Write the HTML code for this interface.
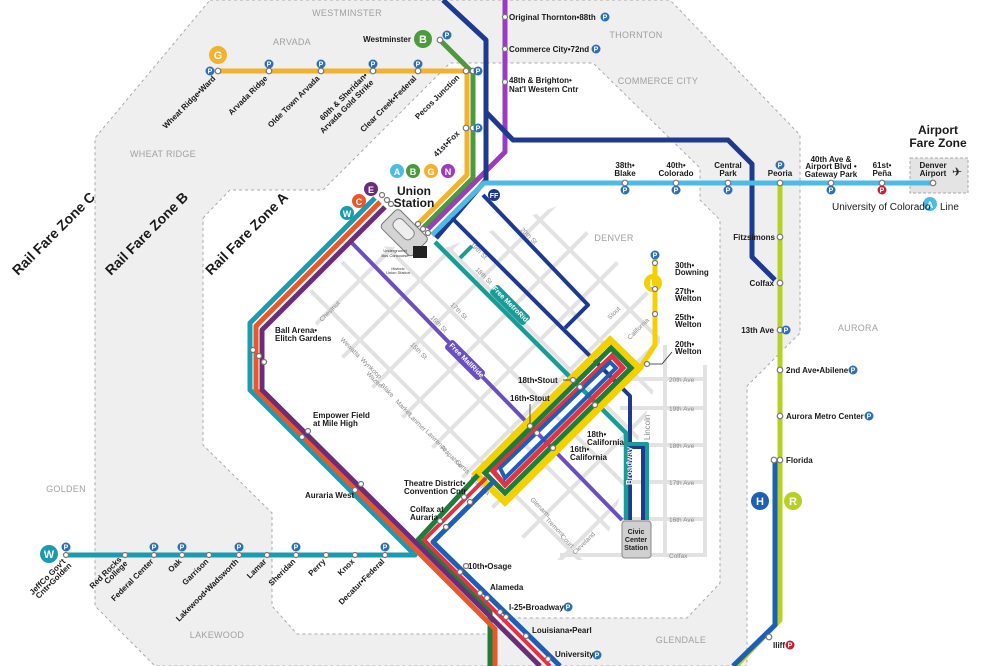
<!DOCTYPE html>
<html><head><meta charset="utf-8"><style>
html,body{margin:0;padding:0;background:#fff;width:1000px;height:666px;overflow:hidden;}
svg{display:block;font-family:"Liberation Sans",sans-serif;}
.st{fill:#fff;stroke:#777;stroke-width:1.2}
.lb{font-size:8px;font-weight:bold;fill:#1a1a1a}
.city{font-size:9px;fill:#a0a0a0;letter-spacing:0.3px}
.zone{font-size:14px;font-weight:bold;fill:#1a1a1a}
.sm{font-size:6.5px;fill:#888}
.ln{fill:none;stroke-linejoin:round;stroke-linecap:butt}
</style></head><body>
<svg width="1000" height="666" viewBox="0 0 1000 666" xmlns="http://www.w3.org/2000/svg">
<defs>
<g id="P"><circle r="4.5" fill="#2e6fb4"/><text y="2.6" text-anchor="middle" font-size="7" font-weight="bold" fill="#fff">P</text></g>
<g id="PR"><circle r="4.5" fill="#c4203a"/><text y="2.6" text-anchor="middle" font-size="7" font-weight="bold" fill="#fff">P</text></g>
<clipPath id="gc"><polygon points="300,300 360,245 440,250 560,205 660,305 660,370 600,560 545,560 330,345"/></clipPath>
</defs>
<!-- zones -->
<polygon points="210,0 670,0 800,135 800,333 747,386 747,666 155,666 95,606 95,138" fill="#efefef" stroke="#aaa" stroke-width="1" stroke-dasharray="3,3"/>
<polygon points="203,218 230,190 323,190 450,63 593,63 700,168 700,200 720,220 720,583 687,618 506,618 490,634 297,634 272,606 272,513 203,445" fill="#fff" stroke="#aaa" stroke-width="1" stroke-dasharray="3,3"/>
<rect x="910" y="158" width="58" height="35" fill="#e4e4e4" stroke="#aaa" stroke-dasharray="3,2"/>

<text class="zone" transform="translate(57,237) rotate(-45)" text-anchor="middle">Rail Fare Zone C</text>
<text class="zone" transform="translate(150,237) rotate(-45)" text-anchor="middle">Rail Fare Zone B</text>
<text class="zone" transform="translate(250,237) rotate(-45)" text-anchor="middle">Rail Fare Zone A</text>
<text class="city" x="347" y="16" text-anchor="middle">WESTMINSTER</text>
<text class="city" x="292" y="45" text-anchor="middle">ARVADA</text>
<text class="city" x="636" y="38" text-anchor="middle">THORNTON</text>
<text class="city" x="658" y="84" text-anchor="middle">COMMERCE CITY</text>
<text class="city" x="163" y="157" text-anchor="middle">WHEAT RIDGE</text>
<text class="city" x="614" y="241" text-anchor="middle">DENVER</text>
<text class="city" x="858" y="331" text-anchor="middle">AURORA</text>
<text class="city" x="66" y="492" text-anchor="middle">GOLDEN</text>
<text class="city" x="217" y="638" text-anchor="middle">LAKEWOOD</text>
<text class="city" x="681" y="643" text-anchor="middle">GLENDALE</text>
<text x="938" y="134" text-anchor="middle" font-size="12" font-weight="bold" fill="#1a1a1a">Airport</text>
<text x="938" y="147" text-anchor="middle" font-size="12" font-weight="bold" fill="#1a1a1a">Fare Zone</text>

<!-- street grid -->
<g clip-path="url(#gc)" stroke="#e2e2e2" stroke-width="4">
<line x1="200" y1="0" x2="900" y2="700"/><line x1="170" y1="30" x2="870" y2="730"/><line x1="140" y1="60" x2="840" y2="760"/><line x1="110" y1="90" x2="810" y2="790"/><line x1="80" y1="120" x2="780" y2="820"/><line x1="50" y1="150" x2="750" y2="850"/><line x1="20" y1="180" x2="720" y2="880"/><line x1="-10" y1="210" x2="690" y2="910"/><line x1="230" y1="-30" x2="930" y2="670"/><line x1="260" y1="-60" x2="960" y2="640"/><line x1="290" y1="-90" x2="990" y2="610"/><line x1="320" y1="-120" x2="1020" y2="580"/><line x1="350" y1="-150" x2="1050" y2="550"/><line x1="380" y1="-180" x2="1080" y2="520"/>
<line x1="300" y1="700" x2="1000" y2="0"/><line x1="270" y1="670" x2="970" y2="-30"/><line x1="240" y1="640" x2="940" y2="-60"/><line x1="210" y1="610" x2="910" y2="-90"/><line x1="180" y1="580" x2="880" y2="-120"/><line x1="150" y1="550" x2="850" y2="-150"/><line x1="120" y1="520" x2="820" y2="-180"/><line x1="330" y1="730" x2="1030" y2="30"/><line x1="360" y1="760" x2="1060" y2="60"/><line x1="390" y1="790" x2="1090" y2="90"/><line x1="420" y1="820" x2="1120" y2="120"/>
</g>
<g stroke="#e2e2e2" stroke-width="4">
<line x1="610" y1="379" x2="705" y2="379"/><line x1="620" y1="408" x2="705" y2="408"/><line x1="620" y1="445" x2="705" y2="445"/><line x1="620" y1="482" x2="705" y2="482"/><line x1="620" y1="519" x2="705" y2="519"/><line x1="560" y1="555" x2="705" y2="555"/>
<line x1="665" y1="345" x2="665" y2="555"/><line x1="705" y1="365" x2="705" y2="557"/>
</g>
<g class="sm">
<text x="669" y="382">20th Ave</text><text x="669" y="411">19th Ave</text><text x="669" y="448">18th Ave</text><text x="669" y="485">17th Ave</text><text x="669" y="522">16th Ave</text><text x="669" y="558">Colfax</text>
<text transform="translate(650,440) rotate(-90)" font-size="8">Lincoln</text>
<text transform="translate(322,322) rotate(-45)">Chestnut</text>
<text transform="translate(340,340) rotate(45)">Wewatta</text>
<text transform="translate(360,360) rotate(45)">Wynkoop</text>
<text transform="translate(366,374) rotate(45)">Wazee</text>
<text transform="translate(380,386) rotate(45)">Blake</text>
<text transform="translate(395,402) rotate(45)">Market</text>
<text transform="translate(408,416) rotate(45)">Larimer</text>
<text transform="translate(425,432) rotate(45)">Lawrence</text>
<text transform="translate(440,448) rotate(45)">Arapahoe</text>
<text transform="translate(455,462) rotate(45)">Curtis</text>
<text transform="translate(470,478) rotate(45)">Champa</text>
<text transform="translate(530,500) rotate(45)">Glenarm</text>
<text transform="translate(545,520) rotate(45)">Tremont</text>
<text transform="translate(560,537) rotate(45)">Court</text>
<text transform="translate(575,555) rotate(-45)">Cleveland</text>
<text transform="translate(610,320) rotate(-45)">Stout</text>
<text transform="translate(630,340) rotate(-45)">California</text>
<text transform="translate(450,305) rotate(45)">17th St</text>
<text transform="translate(430,318) rotate(45)">16th St</text>
<text transform="translate(410,345) rotate(45)">15th St</text>
<text transform="translate(470,245) rotate(45)">19th St</text>
<text transform="translate(475,270) rotate(45)">18th St</text>
<text transform="translate(520,230) rotate(45)">20th St</text>
</g>

<!-- G line -->
<polyline class="ln" points="218,71 467,71 467,175 418,224" stroke="#f2b12e" stroke-width="5"/>
<polyline class="ln" points="440,40 473,73 473,178 423,228" stroke="#4a9b3a" stroke-width="5"/>
<polyline class="ln" points="505,0 505,152 428,229" stroke="#9b3cbf" stroke-width="5"/>
<polyline class="ln" points="443,0 486,40 486,180 436,238" stroke="#1e3a8f" stroke-width="5"/>
<polyline class="ln" points="486,112 513,140 728,140 752,164 752,257 775,280" stroke="#1e3a8f" stroke-width="5"/>
<polyline class="ln" points="935,183 484,183 432,235" stroke="#4cbbe6" stroke-width="5"/>
<polyline class="ln" points="483,195 588,305 565,328" stroke="#1e3a8f" stroke-width="4"/>
<polyline class="ln" points="452,218 620,386" stroke="#1e3a8f" stroke-width="4"/>
<polyline class="ln" points="620,386 630,396 630,520" stroke="#1e3a8f" stroke-width="4"/>
<polyline class="ln" points="630,447 643,447 643,520" stroke="#1e3a8f" stroke-width="4"/>
<polyline class="ln" points="435,242 600,407 626,433 626,520" stroke="#1a9c96" stroke-width="4.5"/>
<polyline class="ln" points="626,444 647,444 647,520" stroke="#1a9c96" stroke-width="4"/>
<line x1="460" y1="258" x2="472" y2="246" stroke="#1a9c96" stroke-width="4"/>
<polyline class="ln" points="352,243 622,520" stroke="#6a4fc1" stroke-width="4"/>
<rect x="-24" y="-6" width="48" height="12" rx="3" fill="#6a4fc1" transform="translate(465,360) rotate(45)"/>
<text transform="translate(465,362) rotate(45)" text-anchor="middle" font-size="7" font-weight="bold" fill="#fff">Free MallRide</text>
<rect x="-24" y="-6" width="48" height="12" rx="3" fill="#1a9c96" transform="translate(510,305) rotate(45)"/>
<text transform="translate(510,307) rotate(45)" text-anchor="middle" font-size="7" font-weight="bold" fill="#fff">Free MetroRide</text>
<text transform="translate(632,485) rotate(-90)" font-size="8" font-weight="bold" fill="#fff">Broadway</text>

<!-- downtown loop -->
<polygon points="476,474 610,340 639,368 505,502" fill="none" stroke="#f5d000" stroke-width="7"/>
<polygon points="485,473 611,348 631,368 505,493" fill="none" stroke="#1e7d3a" stroke-width="5"/>
<polygon points="493,471 612,356 623,368 505,485" fill="none" stroke="#e03343" stroke-width="5"/>
<polygon points="500,468 610,362 616,368 505,478" fill="none" stroke="#1c5fb4" stroke-width="4"/>
<polyline class="ln" points="655,258 655,345 640,368" stroke="#f5d000" stroke-width="5"/>
<polyline class="ln" points="478,475 418,540 490,612 490,666" stroke="#1e7d3a" stroke-width="5"/>
<polyline class="ln" points="486,478 424,540 550,666" stroke="#e03343" stroke-width="4"/>
<polyline class="ln" points="495,480 433,542 560,666" stroke="#1c5fb4" stroke-width="5"/>
<polyline class="ln" points="375,198 250,323 250,390 415,555 65,555" stroke="#1a9bb0" stroke-width="5"/>
<polyline class="ln" points="380,202 256,326 256,390 495,629 495,666" stroke="#e8582b" stroke-width="5"/>
<polyline class="ln" points="385,207 262,330 262,390 540,666" stroke="#6b2c7a" stroke-width="5"/>
<polyline class="ln" points="780,183 780,620 736,666" stroke="#b5d124" stroke-width="5"/>
<polyline class="ln" points="775,460 775,625 733,666" stroke="#1c5fb4" stroke-width="5"/>

<!-- union station -->
<g transform="translate(405,232) rotate(45)"><rect x="-22" y="-12" width="44" height="26" rx="4" fill="#d4d4d4" stroke="#777"/><rect x="-15" y="-7" width="24" height="12" rx="5" fill="#eee" stroke="#888"/></g>
<rect x="413" y="246" width="14" height="12" fill="#222"/>
<text x="395" y="252" text-anchor="middle" font-size="4" fill="#333">Underground</text>
<text x="395" y="257" text-anchor="middle" font-size="4" fill="#333">Bus Concourse</text>
<text x="398" y="270" text-anchor="middle" font-size="4" fill="#333">Historic</text>
<text x="398" y="274" text-anchor="middle" font-size="4" fill="#333">Union Station</text>
<rect x="622" y="521" width="29" height="37" rx="3" fill="#d0d0d0" stroke="#888"/>
<text x="636" y="534" text-anchor="middle" font-size="7" font-weight="bold" fill="#222">Civic</text>
<text x="636" y="542" text-anchor="middle" font-size="7" font-weight="bold" fill="#222">Center</text>
<text x="636" y="550" text-anchor="middle" font-size="7" font-weight="bold" fill="#222">Station</text>

<g font-weight="bold" font-size="11" text-anchor="middle" fill="#fff">
<circle cx="218" cy="55" r="9" fill="#f2b12e"/><text x="218" y="59">G</text>
<circle cx="423" cy="39" r="9" fill="#4a9b3a"/><text x="423" y="43">B</text>
<circle cx="397" cy="171" r="7" fill="#4cbbe6"/><text x="397" y="175" font-size="9">A</text>
<circle cx="413" cy="171" r="7" fill="#4a9b3a"/><text x="413" y="175" font-size="9">B</text>
<circle cx="431" cy="171" r="7" fill="#f2b12e"/><text x="431" y="175" font-size="9">G</text>
<circle cx="448" cy="171" r="7" fill="#9b3cbf"/><text x="448" y="175" font-size="9">N</text>
<circle cx="371" cy="189" r="7" fill="#6b2c7a"/><text x="371" y="193" font-size="9">E</text>
<circle cx="359" cy="201" r="7" fill="#e8582b"/><text x="359" y="205" font-size="9">C</text>
<circle cx="347" cy="213" r="7" fill="#1a9bb0"/><text x="347" y="217" font-size="9">W</text>
<circle cx="49" cy="554" r="9" fill="#1a9bb0"/><text x="49" y="558">W</text>
<circle cx="653" cy="283" r="9" fill="#f5d000"/><text x="653" y="287">L</text>
<circle cx="760" cy="501" r="9" fill="#1c5fb4"/><text x="760" y="505">H</text>
<circle cx="793" cy="501" r="9" fill="#b5d124"/><text x="793" y="505">R</text>
<circle cx="930" cy="204" r="7" fill="#4cbbe6"/><text x="930" y="208" font-size="9">A</text>
<circle cx="494" cy="195" r="6" fill="#1e3a8f"/><text x="494" y="198" font-size="7">FF</text>
</g>
<text x="414" y="195" text-anchor="middle" font-size="12" font-weight="bold" fill="#1a1a1a">Union</text>
<text x="414" y="207" text-anchor="middle" font-size="12" font-weight="bold" fill="#1a1a1a">Station</text>
<text x="832" y="210" font-size="10" fill="#1a1a1a">University of Colorado</text>
<text x="940" y="210" font-size="10" fill="#1a1a1a">Line</text>
<text x="952" y="176" font-size="12" fill="#222">✈</text>

<g>
<circle class="st" cx="218" cy="71" r="2.8"/><circle class="st" cx="269" cy="71" r="2.8"/><circle class="st" cx="321" cy="71" r="2.8"/><circle class="st" cx="373" cy="71" r="2.8"/><circle class="st" cx="418" cy="71" r="2.8"/><circle class="st" cx="466" cy="71" r="2.8"/><circle class="st" cx="473" cy="71" r="2.8"/><circle class="st" cx="466" cy="128" r="2.8"/><circle class="st" cx="473" cy="128" r="2.8"/><circle class="st" cx="440" cy="40" r="2.8"/>
<use href="#P" x="210" y="71"/><use href="#P" x="269" y="64"/><use href="#P" x="321" y="64"/><use href="#P" x="373" y="64"/><use href="#P" x="418" y="64"/><use href="#P" x="478" y="71"/><use href="#P" x="478" y="128"/><use href="#P" x="447" y="35"/>
</g>
<g class="lb" text-anchor="end">
<text transform="translate(216,79) rotate(-45)">Wheat Ridge•Ward</text>
<text transform="translate(268,79) rotate(-45)">Arvada Ridge</text>
<text transform="translate(320,79) rotate(-45)">Olde Town Arvada</text>
<text transform="translate(368,76) rotate(-45)">60th &amp; Sheridan•</text>
<text transform="translate(374,83) rotate(-45)">Arvada Gold Strike</text>
<text transform="translate(417,79) rotate(-45)">Clear Creek•Federal</text>
<text transform="translate(460,78) rotate(-45)">Pecos Junction</text>
<text transform="translate(460,134) rotate(-45)">41st•Fox</text>
<text x="411" y="42">Westminster</text>
</g>
<circle class="st" cx="505" cy="17" r="2.5"/><circle class="st" cx="505" cy="49" r="2.5"/><circle class="st" cx="505" cy="82" r="2.5"/>
<g class="lb"><text x="509" y="20">Original Thornton•88th</text><text x="509" y="52">Commerce City•72nd</text><text x="509" y="83">48th &amp; Brighton•</text><text x="509" y="92">Nat'l Western Cntr</text></g>
<use href="#P" x="605" y="17"/><use href="#P" x="596" y="49"/>
<g>
<circle class="st" cx="625" cy="183" r="2.8"/><circle class="st" cx="676" cy="183" r="2.8"/><circle class="st" cx="728" cy="183" r="2.8"/><circle class="st" cx="780" cy="183" r="2.8"/><circle class="st" cx="831" cy="183" r="2.8"/><circle class="st" cx="882" cy="183" r="2.8"/><circle class="st" cx="933" cy="183" r="2.8"/>
<use href="#P" x="625" y="190"/><use href="#P" x="676" y="190"/><use href="#P" x="728" y="190"/><use href="#P" x="780" y="165"/><use href="#P" x="831" y="190"/><use href="#PR" x="882" y="190"/>
</g>
<g class="lb" text-anchor="middle">
<text x="625" y="168">38th•</text><text x="625" y="176">Blake</text>
<text x="676" y="168">40th•</text><text x="676" y="176">Colorado</text>
<text x="728" y="168">Central</text><text x="728" y="176">Park</text>
<text x="780" y="176">Peoria</text>
<text x="831" y="162">40th Ave &amp;</text><text x="831" y="169">Airport Blvd •</text><text x="831" y="177">Gateway Park</text>
<text x="882" y="168">61st•</text><text x="882" y="176">Peña</text>
<text x="933" y="168">Denver</text><text x="933" y="176">Airport</text>
</g>
<circle class="st" cx="780" cy="237" r="2.8"/><circle class="st" cx="780" cy="283" r="2.8"/><circle class="st" cx="780" cy="330" r="2.8"/><circle class="st" cx="780" cy="370" r="2.8"/><circle class="st" cx="780" cy="416" r="2.8"/><circle class="st" cx="780" cy="460" r="2.8"/><circle class="st" cx="774" cy="460" r="2.8"/><circle class="st" cx="769" cy="637" r="2.8"/>
<g class="lb">
<text x="775" y="240" text-anchor="end">Fitzsimons</text>
<text x="774" y="286" text-anchor="end">Colfax</text>
<text x="774" y="333" text-anchor="end">13th Ave</text>
<text x="786" y="373">2nd Ave•Abilene</text>
<text x="786" y="419">Aurora Metro Center</text>
<text x="786" y="463">Florida</text>
<text x="773" y="648">Iliff</text>
</g>
<use href="#P" x="786" y="330"/><use href="#P" x="853" y="370"/><use href="#P" x="869" y="416"/><use href="#PR" x="790" y="645"/>
<circle class="st" cx="655" cy="263" r="2.5"/><circle class="st" cx="655" cy="289" r="2.5"/><circle class="st" cx="655" cy="314" r="2.5"/><circle class="st" cx="647" cy="364" r="2.5"/>
<use href="#P" x="655" y="255"/>
<g class="lb"><text x="675" y="268">30th•</text><text x="675" y="275">Downing</text><text x="675" y="294">27th•</text><text x="675" y="301">Welton</text><text x="675" y="320">25th•</text><text x="675" y="327">Welton</text><text x="675" y="347">20th•</text><text x="675" y="354">Welton</text></g>
<polyline points="650,364 662,364 672,352" fill="none" stroke="#222" stroke-width="0.8"/>
<g class="lb">
<text x="518" y="383">18th•Stout</text><text x="510" y="401">16th•Stout</text>
<text x="587" y="437">18th•</text><text x="587" y="445">California</text>
<text x="570" y="452">16th•</text><text x="570" y="460">California</text>
<text x="404" y="486">Theatre District•</text><text x="404" y="494">Convention Cntr</text>
<text x="410" y="512">Colfax at</text><text x="410" y="520">Auraria</text>
<text x="468" y="569">10th•Osage</text><text x="490" y="590">Alameda</text><text x="509" y="610">I-25•Broadway</text>
<text x="532" y="633">Louisiana•Pearl</text><text x="555" y="657">University</text>
<text x="275" y="333">Ball Arena•</text><text x="275" y="341">Elitch Gardens</text>
<text x="313" y="418">Empower Field</text><text x="313" y="426">at Mile High</text>
<text x="305" y="498">Auraria West</text>
</g>
<use href="#P" x="568" y="607"/><use href="#P" x="597" y="655"/>
<line x1="563" y1="380" x2="573" y2="380" stroke="#222" stroke-width="0.8"/>
<line x1="530" y1="404" x2="530" y2="425" stroke="#222" stroke-width="0.8"/>
<g>
<circle class="st" cx="573" cy="380" r="2.5"/><circle class="st" cx="580" cy="387" r="2.5"/><circle class="st" cx="530" cy="426" r="2.5"/><circle class="st" cx="537" cy="433" r="2.5"/><circle class="st" cx="595" cy="405" r="2.5"/><circle class="st" cx="553" cy="448" r="2.5"/>
<circle class="st" cx="464" cy="497" r="2.5"/><circle class="st" cx="470" cy="502" r="2.5"/><circle class="st" cx="440" cy="521" r="2.5"/><circle class="st" cx="446" cy="527" r="2.5"/>
<circle class="st" cx="460" cy="572" r="2.5"/><circle class="st" cx="466" cy="566" r="2.5"/><circle class="st" cx="480" cy="593" r="2.5"/><circle class="st" cx="487" cy="598" r="2.5"/><circle class="st" cx="500" cy="612" r="2.5"/><circle class="st" cx="506" cy="617" r="2.5"/><circle class="st" cx="526" cy="636" r="2.5"/><circle class="st" cx="548" cy="659" r="2.5"/>
<circle class="st" cx="253" cy="350" r="2.5"/><circle class="st" cx="259" cy="356" r="2.5"/><circle class="st" cx="264" cy="362" r="2.5"/>
<circle class="st" cx="302" cy="437" r="2.5"/><circle class="st" cx="308" cy="431" r="2.5"/><circle class="st" cx="355" cy="490" r="2.5"/><circle class="st" cx="361" cy="484" r="2.5"/>
<circle class="st" cx="382" cy="195" r="2.5"/><circle class="st" cx="387" cy="200" r="2.5"/><circle class="st" cx="391" cy="204" r="2.5"/>
<circle class="st" cx="418" cy="224" r="2.5"/><circle class="st" cx="423" cy="229" r="2.5"/><circle class="st" cx="428" cy="233" r="2.5"/>
</g>
<g>
<circle class="st" cx="66" cy="555" r="2.5"/><circle class="st" cx="125" cy="555" r="2.5"/><circle class="st" cx="154" cy="555" r="2.5"/><circle class="st" cx="182" cy="555" r="2.5"/><circle class="st" cx="209" cy="555" r="2.5"/><circle class="st" cx="239" cy="555" r="2.5"/><circle class="st" cx="267" cy="555" r="2.5"/><circle class="st" cx="296" cy="555" r="2.5"/><circle class="st" cx="326" cy="555" r="2.5"/><circle class="st" cx="355" cy="555" r="2.5"/><circle class="st" cx="385" cy="555" r="2.5"/>
<use href="#P" x="66" y="547"/><use href="#P" x="154" y="547"/><use href="#P" x="182" y="547"/><use href="#P" x="239" y="547"/><use href="#P" x="296" y="547"/><use href="#P" x="385" y="547"/>
</g>
<g class="lb" text-anchor="end">
<text transform="translate(66,562) rotate(-45)">JeffCo Gov't</text><text transform="translate(72,566) rotate(-45)">Cntr•Golden</text>
<text transform="translate(122,560) rotate(-45)">Red Rocks</text><text transform="translate(128,564) rotate(-45)">College</text>
<text transform="translate(154,562) rotate(-45)">Federal Center</text>
<text transform="translate(182,562) rotate(-45)">Oak</text>
<text transform="translate(209,562) rotate(-45)">Garrison</text>
<text transform="translate(239,562) rotate(-45)">Lakewood•Wadsworth</text>
<text transform="translate(267,562) rotate(-45)">Lamar</text>
<text transform="translate(296,562) rotate(-45)">Sheridan</text>
<text transform="translate(326,562) rotate(-45)">Perry</text>
<text transform="translate(355,562) rotate(-45)">Knox</text>
<text transform="translate(385,562) rotate(-45)">Decatur•Federal</text>
</g>
</svg>
</body></html>
